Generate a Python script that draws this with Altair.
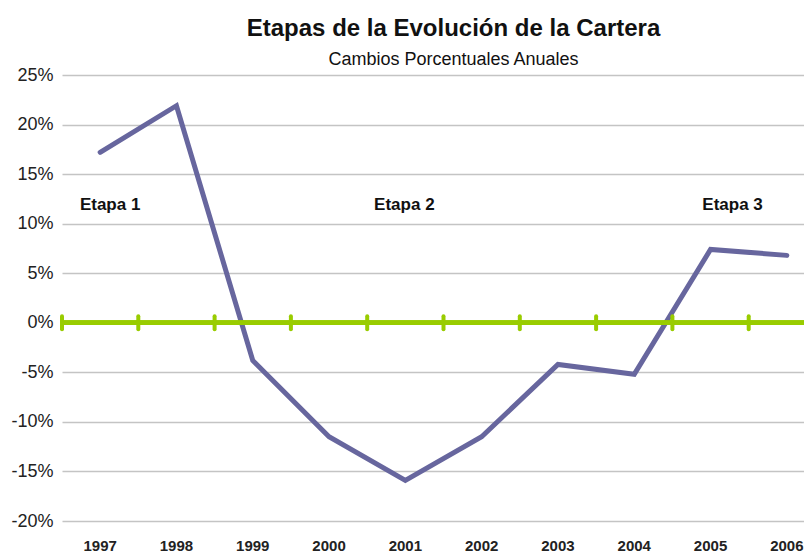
import altair as alt
import pandas as pd

years = ["1997", "1998", "1999", "2000", "2001", "2002", "2003", "2004", "2005", "2006"]
changes = [0.172, 0.219, -0.038, -0.115, -0.159, -0.115, -0.042, -0.052, 0.074, 0.068]

stage_labels = ["Etapa 1", "Etapa 2", "Etapa 3"]
stage_years = ["1997", "2001", "2005"]
stage_dx = [10, -1, 22]
stage_level = 0.119

df = pd.DataFrame({"year": years, "change": changes})

sans = "Liberation Sans, Arial, sans-serif"

x_scale = alt.Scale(domain=years, paddingInner=0, paddingOuter=0)
y_scale = alt.Scale(domain=[-0.20, 0.25], nice=False, zero=False)

x_enc = alt.X("year:O", scale=x_scale, title=None,
              axis=alt.Axis(labelAngle=0, labelFont=sans, labelFontWeight="bold",
                            labelFontSize=15, labelColor="#222222", labelPadding=17,
                            bandPosition=0.5, labelAlign="center",
                            ticks=False, domain=False, grid=False))
y_enc = alt.Y("change:Q", scale=y_scale, title=None,
              axis=alt.Axis(values=[-0.20, -0.15, -0.10, -0.05, 0, 0.05, 0.10, 0.15, 0.20, 0.25],
                            labelExpr="replace(format(datum.value, '.0%'), '\u2212', '-')",
                            labelFont=sans, labelFontSize=18,
                            labelColor="#222222", labelPadding=9, ticks=False,
                            domain=False, grid=True, gridColor="#c4c4c4", gridWidth=1.5))

base = alt.Chart(df)

line = base.mark_line(color="#67669e", strokeWidth=5, strokeCap="round",
                      strokeJoin="miter").encode(x=x_enc, y=y_enc)

zero_line = base.mark_rule(color="#99cc00", strokeWidth=4).encode(y=alt.datum(0))

tick_marks = base.mark_rule(color="#99cc00", strokeWidth=4, strokeCap="round").encode(
    x=alt.X("year:O", scale=x_scale, bandPosition=0),
    y=alt.datum(-0.0065),
    y2=alt.datum(0.0065),
)

stage_layers = []
for lab, yr, dx in zip(stage_labels, stage_years, stage_dx):
    d = pd.DataFrame({"label": [lab], "year": [yr], "change": [stage_level]})
    stage_layers.append(
        alt.Chart(d).mark_text(font=sans, fontWeight="bold", fontSize=17,
                               color="#111111", dx=dx).encode(
            x=alt.X("year:O", scale=x_scale),
            y=alt.Y("change:Q", scale=y_scale),
            text="label:N",
        )
    )

chart = alt.layer(line, zero_line, tick_marks, *stage_layers).properties(
    width=763,
    height=446,
    title=alt.TitleParams(
        "Etapas de la Evolución de la Cartera",
        subtitle="Cambios Porcentuales Anuales",
        font=sans, fontSize=24, fontWeight="bold", color="#111111",
        subtitleFont=sans, subtitleFontSize=18, subtitleColor="#111111",
        subtitlePadding=10, anchor="middle", dx=10, offset=-3,
    ),
    autosize=alt.AutoSizeParams(type="none"),
    padding={"left": 54, "top": 67, "right": -21, "bottom": 40},
).configure_view(stroke=None)

chart.save("out.html", embed_options={"renderer": "svg", "actions": False})
